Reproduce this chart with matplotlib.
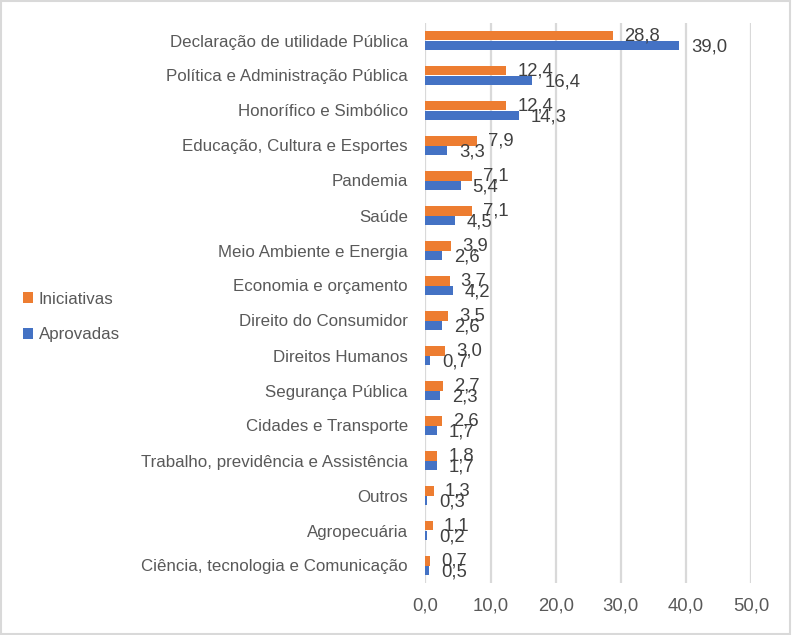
import matplotlib
matplotlib.use("Agg")
import matplotlib.pyplot as plt
from matplotlib.patches import Rectangle
import numpy as np

categories = [
    "Declaração de utilidade Pública",
    "Política e Administração Pública",
    "Honorífico e Simbólico",
    "Educação, Cultura e Esportes",
    "Pandemia",
    "Saúde",
    "Meio Ambiente e Energia",
    "Economia e orçamento",
    "Direito do Consumidor",
    "Direitos Humanos",
    "Segurança Pública",
    "Cidades e Transporte",
    "Trabalho, previdência e Assistência",
    "Outros",
    "Agropecuária",
    "Ciência, tecnologia e Comunicação",
]
iniciativas = [28.8, 12.4, 12.4, 7.9, 7.1, 7.1, 3.9, 3.7, 3.5, 3.0, 2.7, 2.6, 1.8, 1.3, 1.1, 0.7]
aprovadas = [39.0, 16.4, 14.3, 3.3, 5.4, 4.5, 2.6, 4.2, 2.6, 0.7, 2.3, 1.7, 1.7, 0.3, 0.2, 0.5]
xticks = [0, 10, 20, 30, 40, 50]

ORANGE = "#ED7D31"
BLUE = "#4472C4"
TXT = "#595959"
GRID = "#D9D9D9"

plt.rcParams['font.family'] = ['Liberation Sans', 'DejaVu Sans']

fig = plt.figure(figsize=(7.92, 6.35), dpi=100)
ax = fig.add_axes([425.5/792, 1-583/635, (751-425.5)/792, (583-23)/635])

y = np.arange(len(categories))
h = 0.27
ax.barh(y - h/2, iniciativas, height=h, color=ORANGE, zorder=3, label="Iniciativas")
ax.barh(y + h/2, aprovadas, height=h, color=BLUE, zorder=3, label="Aprovadas")

fs_num = 13.3
fs_txt = 12.2
for yi, v in zip(y, iniciativas):
    ax.annotate(f"{v:.1f}".replace(".", ","), (v, yi - h/2), xytext=(11, 0),
                textcoords="offset pixels", va="center", ha="left", color="#404040", fontsize=fs_num, zorder=4)
for yi, v in zip(y, aprovadas):
    ax.annotate(f"{v:.1f}".replace(".", ","), (v, yi + h/2), xytext=(12, -2),
                textcoords="offset pixels", va="center", ha="left", color="#404040", fontsize=fs_num, zorder=4)

ax.set_xlim(0, 50)
ax.set_ylim(len(categories) - 0.5, -0.5)
ax.set_xticks(xticks)
ax.set_xticklabels([f"{t:.1f}".replace(".", ",") for t in xticks], color=TXT, fontsize=fs_num)
ax.set_yticks(y)
ax.set_yticklabels(categories, color=TXT, fontsize=fs_txt)
ax.tick_params(axis="both", length=0)
ax.tick_params(axis="x", pad=10.5)
ax.tick_params(axis="y", pad=12.6)
ax.grid(axis="x", color=GRID, linewidth=1.6, zorder=0)
for s in ax.spines.values():
    s.set_visible(False)

leg = fig.legend(handles=[ax.patches[0], ax.patches[len(categories)]],
                 labels=["Iniciativas", "Aprovadas"],
                 loc="center left", bbox_to_anchor=(8/792, 1-317/635),
                 frameon=False, fontsize=fs_txt, labelcolor=TXT,
                 handlelength=0.6, handleheight=0.6, handletextpad=0.3, labelspacing=1.2)

fig.patches.append(Rectangle((0.001, 0.002), 0.997, 0.996, transform=fig.transFigure,
                             fill=False, edgecolor=GRID, linewidth=1.5))

fig.savefig("out.png", dpi=100)
